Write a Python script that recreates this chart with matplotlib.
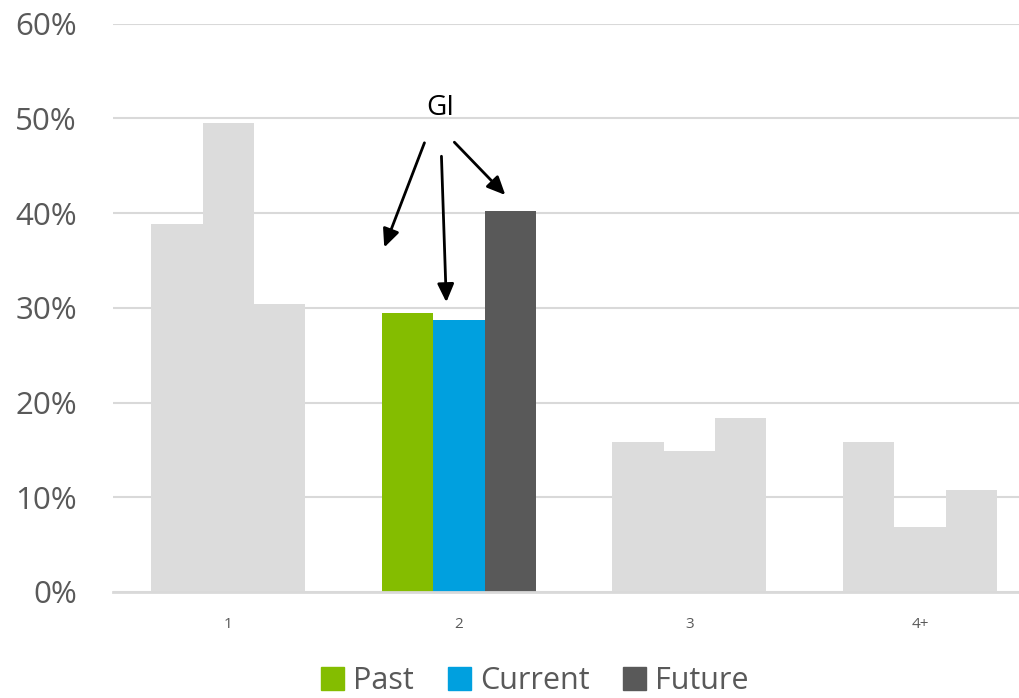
import numpy as np
import matplotlib.pyplot as plt

plt.rcParams['font.family'] = ['Open Sans', 'DejaVu Sans']

categories = ['1', '2', '3', '4+']
series = ['Past', 'Current', 'Future']
past = [38.9, 29.5, 15.8, 15.8]
current = [49.5, 28.7, 14.9, 6.9]
future = [30.4, 40.2, 18.4, 10.8]
colors = ['#84BD00', '#00A0DF', '#595959']
muted = '#DCDCDC'
highlight = 1  # group shown in colour

fig = plt.figure(figsize=(10.19, 6.98), dpi=100)
ax = fig.add_axes([0.111, 0.152, 0.889, 0.814])

x = np.arange(len(categories))
w = 0.223
for i, (name, vals) in enumerate(zip(series, [past, current, future])):
    cols = [colors[i] if k == highlight else muted for k in range(len(categories))]
    ax.bar(x + (i - 1) * w, vals, width=w, color=cols, label=name, zorder=2)

ax.set_ylim(0, 60)
ax.set_xlim(-0.5, 3.43)
ax.set_yticks(range(0, 61, 10))
ax.set_yticklabels([f'{v}%' for v in range(0, 61, 10)], fontsize=22.5, color='#595959')
ax.set_xticks(x)
ax.set_xticklabels(categories, fontsize=11, color='#595959')
ax.tick_params(axis='both', length=0)
ax.tick_params(axis='x', pad=18)
ax.tick_params(axis='y', pad=26)
ax.grid(axis='y', color='#D9D9D9', linewidth=1.5, zorder=0)
for s in ['top', 'right', 'left']:
    ax.spines[s].set_visible(False)
ax.spines['bottom'].set_color('#D9D9D9')
ax.spines['bottom'].set_linewidth(2)

# GI callout arrows
ax.text(0.92, 51.1, 'GI', fontsize=20, ha='center', va='center', color='black')
arrow = dict(arrowstyle='-|>,head_length=1.1,head_width=0.5', color='black', lw=2)
ax.annotate('', xy=(0.672, 36.1), xytext=(0.855, 47.7), arrowprops=arrow)
ax.annotate('', xy=(0.946, 30.3), xytext=(0.924, 46.3), arrowprops=arrow)
ax.annotate('', xy=(1.210, 41.7), xytext=(0.972, 47.7), arrowprops=arrow)

handles = [plt.Rectangle((0, 0), 1, 1, color=c) for c in colors]
fig.legend(handles, series, loc='center', bbox_to_anchor=(0.525, 0.024), ncol=3,
           frameon=False, fontsize=22, handlelength=0.75, handleheight=0.75,
           handletextpad=0.3, columnspacing=1.1, labelcolor='#595959')

fig.savefig('out.png', dpi=100)
